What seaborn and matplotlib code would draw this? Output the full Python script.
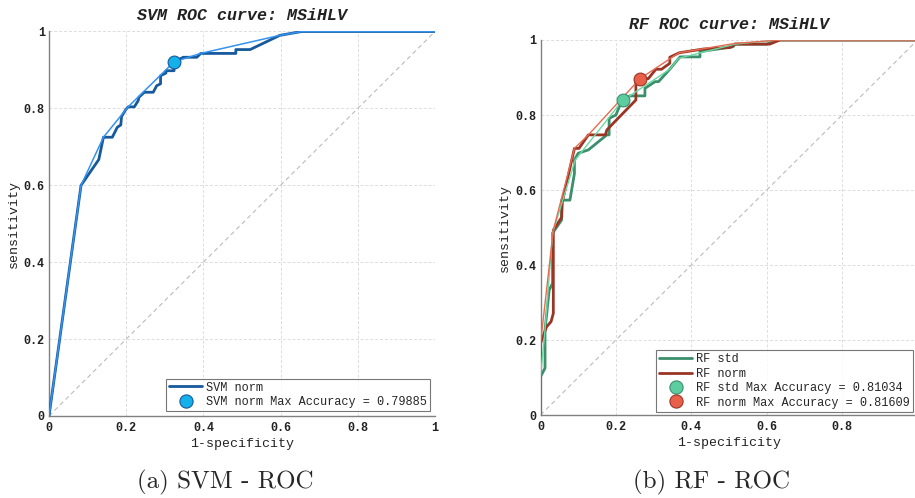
import numpy as np
import pandas as pd
import matplotlib
matplotlib.use("Agg")
import matplotlib.pyplot as plt
import seaborn as sns
from matplotlib.lines import Line2D

# ---------------- data ----------------
svm_fpr = [0, 0.083, 0.129, 0.141, 0.164, 0.177, 0.186, 0.188, 0.199, 0.205, 0.221, 0.231, 0.233,
           0.247, 0.270, 0.279, 0.289, 0.289, 0.303, 0.303, 0.324, 0.324, 0.324, 0.348, 0.383,
           0.393, 0.484, 0.484, 0.521, 0.598, 0.655, 1.0]
svm_tpr = [0, 0.600, 0.667, 0.725, 0.725, 0.751, 0.757, 0.779, 0.797, 0.804, 0.804, 0.820, 0.829,
           0.842, 0.842, 0.859, 0.864, 0.885, 0.892, 0.898, 0.898, 0.910, 0.921, 0.933, 0.933,
           0.943, 0.943, 0.953, 0.953, 0.990, 1.0, 1.0]
svm_hull_fpr = [0, 0.083, 0.141, 0.205, 0.324, 0.393, 0.598, 0.655, 1.0]
svm_hull_tpr = [0, 0.600, 0.725, 0.804, 0.921, 0.943, 0.990, 1.0, 1.0]
svm_best = (0.324, 0.921)

rfn_fpr = [0, 0, 0.016, 0.028, 0.034, 0.034, 0.056, 0.058, 0.090, 0.102, 0.127, 0.172, 0.176,
           0.193, 0.253, 0.253, 0.264, 0.286, 0.306, 0.321, 0.343, 0.343, 0.368, 0.432, 0.503,
           0.516, 0.608, 0.635, 1.0]
rfn_tpr = [0, 0.191, 0.235, 0.249, 0.271, 0.493, 0.527, 0.569, 0.711, 0.711, 0.747, 0.747, 0.760,
           0.778, 0.840, 0.898, 0.897, 0.897, 0.922, 0.922, 0.938, 0.954, 0.966, 0.976, 0.980,
           0.989, 0.989, 1.0, 1.0]
rfn_hull_fpr = [0, 0, 0.034, 0.090, 0.127, 0.264, 0.348, 0.368, 0.516, 0.635, 1.0]
rfn_hull_tpr = [0, 0.191, 0.493, 0.711, 0.747, 0.897, 0.953, 0.966, 0.991, 1.0, 1.0]
rfn_best = (0.264, 0.897)

rfs_fpr = [0, 0, 0.012, 0.012, 0.023, 0.032, 0.032, 0.056, 0.056, 0.078, 0.090, 0.090, 0.100,
           0.127, 0.176, 0.182, 0.182, 0.200, 0.209, 0.218, 0.237, 0.277, 0.277, 0.304, 0.313,
           0.343, 0.370, 0.423, 0.423, 0.511, 0.516, 0.600, 0.627, 1.0]
rfs_tpr = [0, 0.102, 0.125, 0.227, 0.333, 0.351, 0.485, 0.520, 0.573, 0.573, 0.644, 0.680, 0.698,
           0.707, 0.747, 0.747, 0.791, 0.800, 0.822, 0.839, 0.851, 0.851, 0.871, 0.889, 0.889,
           0.922, 0.955, 0.955, 0.969, 0.982, 0.989, 0.989, 1.0, 1.0]
rfs_hull_fpr = [0, 0, 0.012, 0.032, 0.092, 0.217, 0.343, 0.366, 0.516, 0.627, 1.0]
rfs_hull_tpr = [0, 0.102, 0.227, 0.485, 0.680, 0.838, 0.922, 0.951, 0.989, 1.0, 1.0]
rfs_best = (0.218, 0.839)

ticks = [0, 0.2, 0.4, 0.6, 0.8, 1]
tick_labels = ["0", "0.2", "0.4", "0.6", "0.8", "1"]

svm_label = "SVM norm"
svm_acc_label = "SVM norm Max Accuracy = 0.79885"
rfs_label = "RF std"
rfn_label = "RF norm"
rfs_acc_label = "RF std Max Accuracy = 0.81034"
rfn_acc_label = "RF norm Max Accuracy = 0.81609"

caption_a = "(a) SVM - ROC"
caption_b = "(b) RF - ROC"

# ---------------- style ----------------
sns.set_theme(style="white")
plt.rcParams["font.family"] = ["Liberation Mono", "DejaVu Sans Mono"]

SVM_DARK = "#175a9c"
SVM_HULL = "#3592ee"
SVM_MARK = "#14b0ea"
RFS_DARK = "#3b8f6d"
RFS_HULL = "#6ad9a2"
RFS_MARK = "#5dcc9f"
RFN_DARK = "#9a3526"
RFN_HULL = "#e56c52"
RFN_MARK = "#e8604a"

fig = plt.figure(figsize=(9.15, 4.98), dpi=100)
axL = fig.add_axes([49 / 915, 1 - 416 / 498, (435 - 49) / 915, (416 - 31.5) / 498])
axR = fig.add_axes([540.5 / 915, 1 - 415 / 498, (917.5 - 540.5) / 915, (415 - 40) / 498])


def style_axes(ax, title):
    ax.set_xlim(0, 1)
    ax.set_ylim(0, 1)
    ax.set_xticks(ticks)
    ax.set_yticks(ticks)
    ax.set_xticklabels(tick_labels, fontsize=8.5, fontweight="bold", color="#222222")
    ax.set_yticklabels(tick_labels, fontsize=8.5, fontweight="bold", color="#222222")
    ax.tick_params(axis="x", direction="in", length=3, width=0.8, color="#777777", pad=4)
    ax.tick_params(axis="y", direction="in", length=3, width=0.8, color="#777777", pad=3)
    ax.grid(True, color="#dddddd", linestyle=(0, (3, 2)), linewidth=0.7)
    for s in ["top", "right"]:
        ax.spines[s].set_visible(False)
    for s in ["left", "bottom"]:
        ax.spines[s].set_color("#808080")
        ax.spines[s].set_linewidth(1.0)
    ax.plot([0, 1], [0, 1], color="#bbbbbb", linestyle=(0, (4, 3)), linewidth=0.8, zorder=1)
    ax.set_xlabel("1-specificity", fontsize=9.5, labelpad=3, color="#222222")
    ax.set_ylabel("sensitivity", fontsize=9.5, labelpad=3, color="#222222")
    ax.set_title(title, fontsize=12, fontweight="bold", fontstyle="italic", pad=8, color="#222222")


def roc(ax, fpr, tpr, color, lw, z):
    df = pd.DataFrame({"fpr": fpr, "tpr": tpr})
    sns.lineplot(data=df, x="fpr", y="tpr", sort=False, estimator=None, ax=ax,
                 color=color, linewidth=lw, zorder=z)


def best(ax, pt, fc, ec):
    df = pd.DataFrame({"fpr": [pt[0]], "tpr": [pt[1]]})
    sns.scatterplot(data=df, x="fpr", y="tpr", ax=ax, s=85, color=fc, edgecolor=ec,
                    linewidth=0.8, zorder=6)


leg_kw = dict(loc="lower right", fontsize=8.55, frameon=True, fancybox=False,
              edgecolor="#555555", handlelength=2.75, borderpad=0.25, labelspacing=0.2,
              handletextpad=0.35, borderaxespad=0.0)

# ---- SVM ----
roc(axL, svm_fpr, svm_tpr, SVM_DARK, 2.0, 3)
roc(axL, svm_hull_fpr, svm_hull_tpr, SVM_HULL, 1.1, 4)
best(axL, svm_best, SVM_MARK, SVM_DARK)
style_axes(axL, "SVM ROC curve: MSiHLV")
hL = [Line2D([], [], color=SVM_DARK, lw=2.0),
      Line2D([], [], marker="o", ls="none", markersize=9.5, markerfacecolor=SVM_MARK,
             markeredgecolor=SVM_DARK, markeredgewidth=0.8)]
legL = axL.legend(hL, [svm_label, svm_acc_label], bbox_to_anchor=(1 - 5 / 386, 5 / 384),
                  **leg_kw)
legL.get_frame().set_linewidth(0.8)

# ---- RF ----
roc(axR, rfs_fpr, rfs_tpr, RFS_DARK, 2.0, 3)
roc(axR, rfn_fpr, rfn_tpr, RFN_DARK, 2.0, 3)
roc(axR, rfs_hull_fpr, rfs_hull_tpr, RFS_HULL, 1.0, 4)
roc(axR, rfn_hull_fpr, rfn_hull_tpr, RFN_HULL, 1.0, 4)
best(axR, rfs_best, RFS_MARK, RFS_DARK)
best(axR, rfn_best, RFN_MARK, RFN_DARK)
style_axes(axR, "RF ROC curve: MSiHLV")
hR = [Line2D([], [], color=RFS_DARK, lw=2.0),
      Line2D([], [], color=RFN_DARK, lw=2.0),
      Line2D([], [], marker="o", ls="none", markersize=9.5, markerfacecolor=RFS_MARK,
             markeredgecolor=RFS_DARK, markeredgewidth=0.8),
      Line2D([], [], marker="o", ls="none", markersize=9.5, markerfacecolor=RFN_MARK,
             markeredgecolor=RFN_DARK, markeredgewidth=0.8)]
legR = axR.legend(hR, [rfs_label, rfn_label, rfs_acc_label, rfn_acc_label],
                  bbox_to_anchor=(1 - 4.5 / 377, 3.5 / 375), **leg_kw)
legR.get_frame().set_linewidth(0.8)

# captions
fig.text(0.246, 0.032, caption_a, ha="center", va="center", fontsize=18, family="cmr10")
fig.text(0.778, 0.032, caption_b, ha="center", va="center", fontsize=18, family="cmr10")

fig.savefig("out.png", dpi=100)
